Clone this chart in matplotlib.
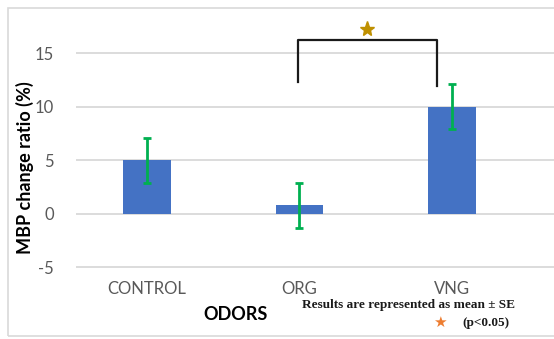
import matplotlib.pyplot as plt
from matplotlib.patches import Rectangle
import numpy as np

categories = ['CONTROL', 'ORG', 'VNG']
means = [5.0, 0.8, 10.0]
errors = [2.1, 2.1, 2.1]
yticks = [-5, 0, 5, 10, 15]

# significance bracket between ORG and VNG
bracket_x = [0.99, 1.90]
bracket_bottom = [12.3, 11.9]
bracket_top = 16.2
star_y = 17.3

plt.rcParams['font.family'] = ['Lato', 'DejaVu Sans']
plt.rcParams['axes.unicode_minus'] = False

fig = plt.figure(figsize=(5.54, 3.39), dpi=100)
fig.patches.append(Rectangle((8 / 554, 3 / 339), 1.2, 328 / 339, transform=fig.transFigure,
                             fill=False, edgecolor='#d9d9d9', linewidth=1.2))

ax = fig.add_axes([76 / 554, 71 / 339, 1 - 76 / 554, 247 / 339])
x = np.arange(len(categories))
ax.bar(x, means, width=0.31, color='#4472C4', zorder=2)
ax.errorbar(x, means, yerr=errors, fmt='none', ecolor='#00B050', elinewidth=2,
            capsize=3, capthick=2, zorder=3)

ax.plot([bracket_x[0], bracket_x[0], bracket_x[1], bracket_x[1]],
        [bracket_bottom[0], bracket_top, bracket_top, bracket_bottom[1]],
        color='#1a1a1a', linewidth=1.6, zorder=4)
ax.plot([np.mean(bracket_x)], [star_y], marker='*', markersize=11, color='#BF9000',
        linestyle='none', zorder=4)

ax.set_xlim(-0.466, 2.67)
ax.set_ylim(-5.05, 18)
ax.set_yticks(yticks)
ax.set_xticks(x)
ax.set_xticklabels(categories)
ax.yaxis.grid(True, color='#d9d9d9', linewidth=1.3, zorder=0)
ax.set_axisbelow(True)
for s in ax.spines.values():
    s.set_visible(False)
ax.tick_params(axis='both', length=0, labelcolor='#595959', labelsize=12)
ax.tick_params(axis='y', pad=16)
ax.tick_params(axis='x', pad=9)

fig.text(25 / 554, 1 - 168 / 339, 'MBP change ratio (%)', rotation=90, ha='center', va='center',
         fontsize=13, fontweight='bold', color='black')
fig.text(236 / 554, 1 - 315 / 339, 'ODORS', ha='center', va='center',
         fontsize=13, fontweight='bold', color='black')
fig.text(408 / 554, 1 - 305 / 339, 'Results are represented as mean \u00b1 SE', ha='center', va='center',
         fontsize=9.5, fontweight='bold', family='Liberation Serif', color='#1a1a1a')
fig.text(486 / 554, 1 - 323 / 339, '(p<0.05)', ha='center', va='center',
         fontsize=9.5, fontweight='bold', family='Liberation Serif', color='#1a1a1a')
fig.text(440 / 554, 1 - 322 / 339, '\u2605', ha='center', va='center',
         fontsize=11, family='DejaVu Sans', color='#ED7D31')

fig.savefig('out.png', dpi=100)
